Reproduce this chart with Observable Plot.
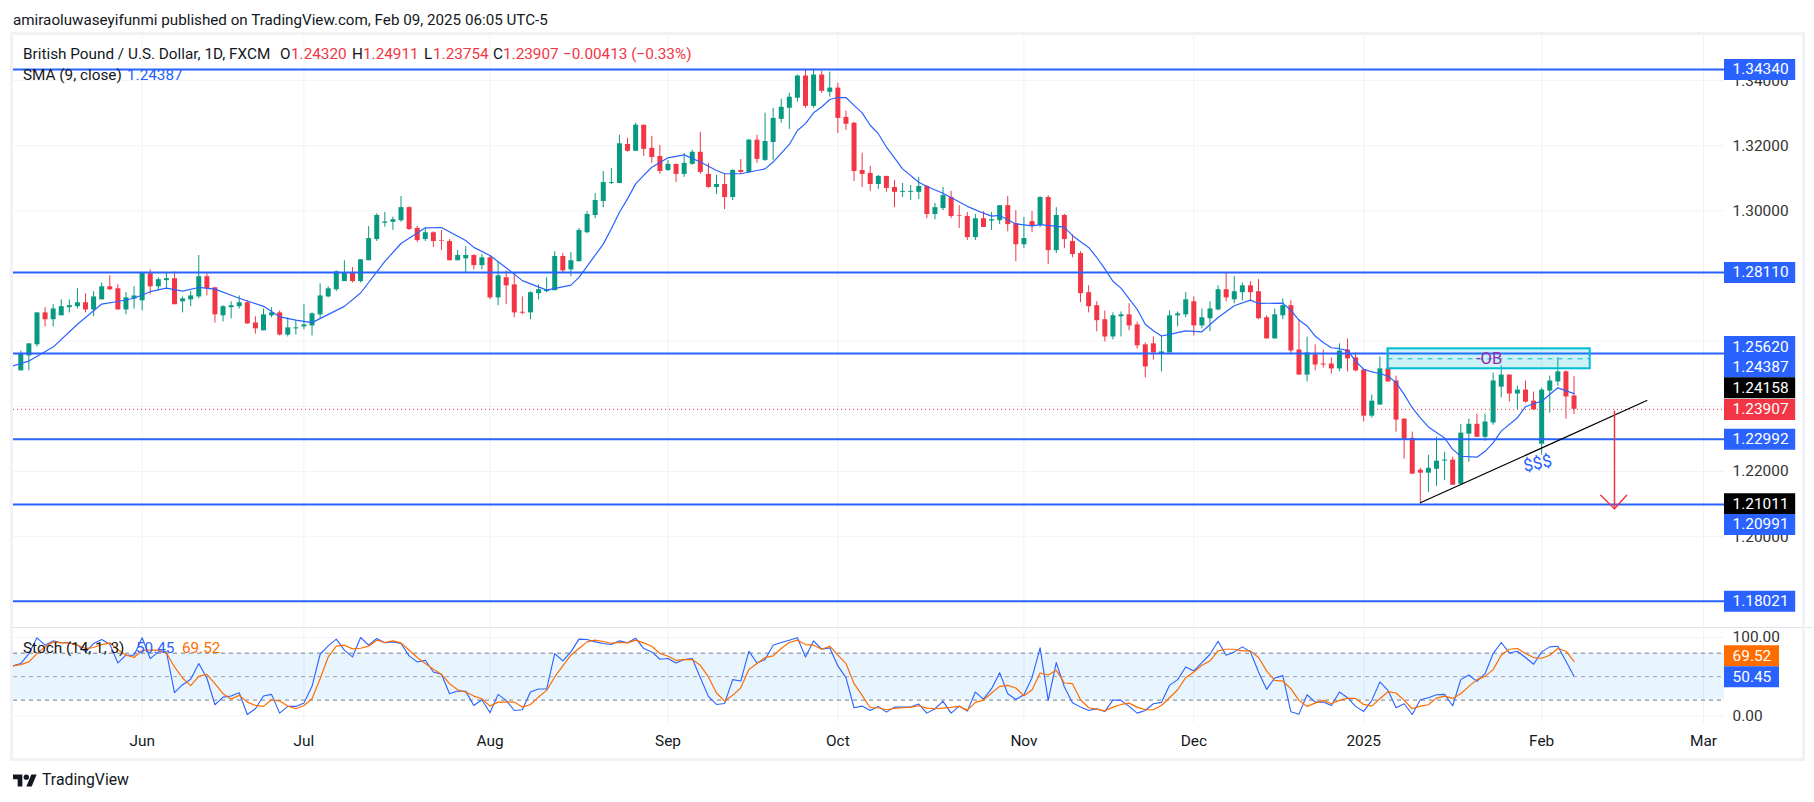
<!DOCTYPE html>
<html><head><meta charset="utf-8">
<script src="https://cdn.jsdelivr.net/npm/d3@7"></script>
<script src="https://cdn.jsdelivr.net/npm/@observablehq/plot@0.6"></script>
<style>
html,body{margin:0;padding:0;background:#fff}
#wrap{position:relative;width:1814px;height:802px;overflow:hidden;font-family:Roboto,sans-serif;color:#131722}
#frame{position:absolute;left:10px;top:32px;width:1789px;height:723px;border:3px solid #f1f2f5;box-sizing:content-box;pointer-events:none}
#price,#osc{position:absolute;left:13px}
#price{top:35px}#osc{top:627px}
.t{position:absolute;white-space:pre;font-size:15.3px;line-height:18px;z-index:5}
.up{color:#f23645}.blue{color:#2962ff}.org{color:#ff6d00}
</style></head><body>
<div id="wrap">
<div id="price"></div><div id="osc"></div><div id="frame"></div>
<div class="t" style="left:13px;top:11px;font-size:15.2px">amiraoluwaseyifunmi published on TradingView.com, Feb 09, 2025 06:05 UTC-5</div>
<div class="t" style="left:23px;top:45px">British Pound / U.S. Dollar, 1D, FXCM</div>
<div class="t" style="left:280px;top:45px">O</div><div class="t up" style="left:291px;top:45px">1.24320</div>
<div class="t" style="left:352px;top:45px">H</div><div class="t up" style="left:363px;top:45px">1.24911</div>
<div class="t" style="left:424px;top:45px">L</div><div class="t up" style="left:433px;top:45px">1.23754</div>
<div class="t" style="left:493px;top:45px">C</div><div class="t up" style="left:503px;top:45px">1.23907</div>
<div class="t up" style="left:563px;top:45px">−0.00413 (−0.33%)</div>
<div class="t" style="left:23px;top:66px">SMA (9, close)</div><div class="t blue" style="left:127px;top:66px">1.24387</div>
<div class="t" style="left:23px;top:639px">Stoch (14, 1, 3)</div><div class="t blue" style="left:136px;top:639px">50.45</div><div class="t org" style="left:182px;top:639px">69.52</div>
<svg style="position:absolute;left:13px;top:773px" width="24" height="15" viewBox="0 4 36 18"><path fill="#131722" d="M14 22H7V11H0V4h14v18zM28 22h-8l7.5-18h8L28 22z"/><circle fill="#131722" cx="20" cy="8" r="4"/></svg>
<div class="t" style="left:42px;top:771px;font-size:15.8px">TradingView</div>
</div>
<script>
// Daily candles, May 13 2024 to Feb 7 2025 (array position = bar number), in pips (price x 10000)
const openPips=[12509,12555,12589,12687,12666,12678,12703,12706,12718,12696,
12727,12767,12761,12696,12730,12724,12807,12767,12786,12792,
12721,12727,12736,12798,12764,12678,12703,12706,12718,12656,
12632,12678,12687,12619,12638,12644,12647,12681,12736,12758,
12783,12810,12783,12847,12912,12962,12965,12970,13010,12946,
12912,12933,12909,12906,12847,12853,12863,12832,12856,12733,
12795,12773,12689,12687,12746,12752,12755,12860,12819,12844,
12933,12986,13029,13084,13084,13204,13183,13263,13192,13167,
13124,13143,13112,13143,13180,13112,13072,13081,13041,13124,
13118,13217,13155,13210,13281,13315,13346,13414,13321,13417,
13364,13377,13287,13269,13124,13115,13081,13106,13072,13057,
13057,13057,13075,12989,13007,13041,12986,12983,12918,12976,
12969,12970,13016,12961,12896,12967,12955,13041,12878,12986,
12906,12869,12749,12709,12666,12613,12675,12681,12650,12589,
12592,12561,12564,12678,12681,12721,12647,12669,12696,12758,
12727,12749,12770,12752,12672,12607,12678,12709,12573,12496,
12558,12530,12530,12515,12573,12549,12512,12370,12404,12515,
12478,12361,12302,12204,12195,12207,12232,12235,12161,12315,
12345,12305,12349,12459,12496,12438,12450,12416,12284,12447,
12475,12506,12432];
const highPips=[12570,12592,12687,12703,12712,12727,12727,12761,12746,12752,
12779,12801,12773,12749,12767,12810,12819,12795,12810,12813,
12736,12752,12863,12807,12764,12709,12721,12739,12724,12675,
12699,12703,12693,12672,12662,12712,12687,12776,12767,12816,
12847,12826,12850,12952,12991,12995,12981,13044,13013,12952,
12946,12936,12940,12912,12878,12890,12866,12866,12863,12841,
12816,12810,12736,12752,12773,12795,12875,12869,12872,12946,
12998,13053,13121,13130,13232,13223,13269,13263,13229,13201,
13155,13143,13176,13186,13241,13146,13109,13115,13127,13158,
13220,13232,13300,13315,13343,13361,13417,13432,13435,13429,
13426,13392,13306,13272,13177,13137,13109,13106,13093,13084,
13078,13103,13078,13023,13072,13060,13016,12995,12989,12998,
12995,13016,13044,13001,12980,12998,13044,13047,13010,12989,
12927,12875,12770,12721,12693,12687,12690,12715,12659,12595,
12613,12616,12693,12690,12749,12736,12699,12721,12770,12810,
12798,12779,12783,12789,12678,12699,12730,12724,12666,12613,
12589,12573,12549,12592,12607,12564,12512,12435,12552,12576,
12493,12361,12321,12210,12250,12305,12259,12244,12345,12361,
12376,12376,12502,12524,12496,12462,12478,12444,12456,12493,
12549,12509,12491];
const lowPips=[12509,12509,12582,12644,12644,12678,12687,12699,12687,12675,
12727,12755,12696,12681,12699,12693,12743,12755,12761,12712,
12687,12706,12730,12739,12656,12659,12669,12699,12653,12622,
12632,12672,12616,12613,12619,12635,12616,12669,12733,12752,
12783,12779,12779,12847,12906,12950,12940,12965,12940,12903,
12906,12887,12878,12847,12847,12810,12819,12819,12727,12709,
12712,12672,12681,12666,12727,12749,12755,12810,12798,12844,
12930,12976,13010,13081,13084,13180,13183,13167,13146,13112,
13121,13087,13103,13140,13112,13069,13050,13004,13032,13112,
13115,13146,13152,13155,13269,13250,13334,13315,13315,13361,
13349,13238,13247,13090,13072,13060,13066,13057,13010,13041,
13032,13035,12976,12973,13001,12976,12946,12909,12909,12949,
12940,12958,12936,12844,12884,12933,12949,12835,12869,12884,
12856,12718,12687,12629,12598,12604,12613,12632,12576,12487,
12542,12506,12564,12644,12672,12616,12638,12629,12693,12721,
12715,12724,12721,12666,12607,12607,12666,12561,12496,12475,
12509,12518,12499,12506,12506,12506,12352,12364,12404,12475,
12321,12238,12192,12101,12136,12155,12173,12158,12161,12229,
12305,12293,12342,12426,12413,12389,12410,12389,12250,12379,
12462,12361,12375];
const closePips=[12560,12592,12687,12666,12699,12706,12709,12718,12696,12736,
12767,12758,12696,12733,12739,12810,12767,12789,12792,12712,
12730,12739,12798,12761,12681,12706,12709,12718,12653,12638,
12681,12687,12619,12641,12641,12650,12684,12739,12761,12813,
12810,12783,12850,12915,12986,12966,12973,13010,12943,12909,
12933,12906,12907,12847,12863,12863,12832,12856,12733,12801,
12770,12687,12686,12749,12758,12758,12860,12816,12847,12940,
12989,13032,13087,13087,13206,13183,13263,13189,13164,13121,
13143,13112,13146,13180,13118,13072,13081,13041,13124,13118,
13217,13158,13213,13284,13318,13349,13414,13321,13417,13367,
13377,13284,13266,13121,13112,13081,13106,13069,13057,13060,
13060,13075,12989,13010,13047,12983,12984,12918,12976,12949,
12973,13016,12958,12896,12915,12955,13041,12878,12986,12912,
12866,12746,12706,12663,12613,12678,12681,12647,12586,12521,
12564,12567,12678,12684,12727,12647,12672,12699,12758,12733,
12752,12770,12749,12669,12607,12681,12709,12570,12496,12564,
12527,12527,12515,12570,12546,12509,12370,12416,12515,12475,
12358,12299,12192,12195,12210,12232,12235,12158,12318,12345,
12305,12352,12478,12496,12438,12450,12413,12389,12450,12478,
12506,12429,12391];
// SMA(9) at its vertices
const smaBars=[-1,1,4,7,10,12,14,16,18,20,22,24,27,30,32,34,36,40,42,45,47,50,52,55,56,58,61,62,65,68,69,72,73,74,75,76,77,78,80,82,84,86,87,89,91,92,93,95,96,97,98,99,100,101,102,103,104,105,106,107,108,109,111,112,114,117,119,120,121,123,125,126,129,130,132,133,134,135,136,138,139,140,141,142,144,146,148,150,152,153,156,157,158,159,160,161,162,163,164,165,166,167,168,169,170,171,172,173,174,176,177,178,180,181,182,183,185,186,187,188,190,192];
const smaPips=[12524,12539,12582,12652,12714,12722,12732,12752,12763,12754,12765,12760,12732,12707,12675,12665,12657,12707,12748,12845,12900,12948,12949,12909,12888,12863,12806,12786,12757,12772,12796,12898,12945,12996,13037,13083,13109,13134,13163,13172,13150,13124,13114,13114,13124,13129,13150,13204,13247,13268,13301,13319,13342,13348,13348,13324,13301,13263,13237,13196,13163,13129,13088,13075,13054,13014,12993,12984,12986,12960,12954,12958,12950,12924,12888,12857,12822,12784,12763,12698,12652,12632,12616,12621,12632,12629,12673,12709,12726,12716,12717,12695,12665,12647,12616,12596,12580,12577,12572,12539,12514,12506,12501,12493,12473,12437,12396,12365,12337,12303,12268,12247,12244,12262,12288,12324,12365,12399,12408,12416,12457,12439];
// Stochastic, first entry is bar -1 (clipped at the left edge)
const stochK=[63.7,66.7,79.5,99.6,90.2,95.7,93.2,93.2,90.2,81.6,92.3,97.4,91.5,67.5,77.4,77.4,99.6,73.1,81.6,81.6,29.5,39.7,46.6,66.7,48.3,14.1,23.9,25.2,29.5,1.7,9,25.2,27.4,3.4,12,12,16.2,37.6,78.6,89.3,97.9,83.8,75.2,100,90.2,98.7,93.2,94.4,92.3,76.5,68.8,70.9,56,53,28.2,31.6,31.2,13.2,20.5,3.8,27.4,19.7,6.8,7.7,30.3,34.2,34.2,79.5,70.1,81.6,97.9,97.4,94.4,92.3,91,95.7,
93.2,99.1,85.9,81.6,72.2,73.1,67.5,71.8,73.1,48.7,24.8,14.5,15.8,46.2,44.4,82.5,67.5,71.8,90.2,93.6,96.6,99.6,75.2,95.7,85,86.8,63.7,48.7,10.3,12.4,6.8,12,4.7,11.1,11.1,11.1,15,3.4,9,18.4,3.4,12.4,6,30.3,21.4,34.6,55.1,28.2,20.9,26.9,48.7,86.8,19.7,67.9,36.8,16.7,11.1,6.8,9,5.6,20.1,19.7,12,3.4,6.8,15.4,17.1,38.9,46.2,62.4,57.3,67.9,78.6,95.3,
77.4,81.6,88,81.6,56,33.8,48.3,51.3,5.1,2.1,26.9,17.5,17.5,13.2,30.3,23.1,12,5.6,19.7,43.2,32.5,10.3,15.4,1.7,20.5,23.1,26.9,27.4,12.8,46.2,52.1,44,53.8,79.5,93.6,80.3,82.5,74.4,65.8,81.6,88,88.9,69.7,50.45];
const stochD=[63.7,65.4,68.8,79.5,88,94.4,93.2,93.2,90.2,85.9,87.2,91,93.2,84.6,77.4,74.4,83.8,83.8,83.8,80.3,62.4,48.3,38.5,50.4,53,41,28.2,21.4,26.1,17.5,13.2,12,20.5,18.8,12.4,9,13.2,21.8,47.4,75.2,88.9,90.2,85.5,86.3,88.9,96.6,93.6,95.7,93.2,83.8,74.4,66.7,59.4,53,41,33.3,30.3,25.2,21.8,12.4,17.5,17.5,17.5,11.1,14.5,23.9,32.5,49.6,63.7,77.4,85.9,94.4,96.6,94.9,92.7,93.6,
93.2,96.6,93.2,88.9,79.5,76.1,70.9,71.8,71.8,64.5,49.6,29.1,18.8,26.1,35.9,59,66.7,74.4,76.5,85.9,93.6,96.6,91,90.2,85,88.9,77.4,66.7,41,26.1,10.3,10.3,7.7,9.4,10.3,11.1,12.8,9.8,9,9.8,10.7,12,7.3,17.1,20.1,29.1,37.6,38.9,35.5,25.6,32.9,54.7,52.1,58.1,41.9,41,20.5,10.3,8.5,6.4,11.1,14.5,16.2,11.1,7.7,7.7,13.2,23.1,33.3,48.7,56,64.5,70.1,82.9,
85,85,82.9,82.9,74.4,57.3,45.3,44.4,34.6,19.7,12,16.2,19.7,15.4,19.7,22.2,22.2,14.5,12.4,21.8,30.8,29.1,19.7,9,12.4,14.1,22.6,25.2,22.2,28.2,37.6,46.2,50.4,59,77.4,85,85.9,79.5,74.4,73.5,77.4,85.9,82.5,69.52];

const monthBars=[15,35,58,80,101,124,145,166,188,208];
const monthLabels=["Jun","Jul","Aug","Sep","Oct","Nov","Dec","2025","Feb","Mar"];
const gridPrices=[1.34,1.32,1.30,1.28,1.26,1.24,1.22,1.20];
const axisLabelPrices=[1.34,1.32,1.30,1.22,1.20];
const levelPrices=[1.3434,1.2811,1.2562,1.22992,1.20991,1.18021];
const tagValues=[1.3434,1.2811,1.2562,1.24387,1.24158,1.23907,1.22992,1.21011,1.20991,1.18021];
const tagColors=["#2962ff","#2962ff","#2962ff","#2962ff","#000000","#f23645","#2962ff","#000000","#2962ff","#2962ff"];
const lastClose=1.23907;
const oscTicks=[100,0];
const oscLevels=[80,50,20];
const obZone={bar1:169,bar2:194,top:1.25767,bottom:1.25154,mid:1.2546};
const trendBars=[173,201],trendPrices=[1.2104,1.2418];
const arrowBars=[197,197],arrowPrices=[1.2385,1.2086];
const arrowHeadBars=[195.3,197,198.5],arrowHeadPrices=[1.2127,1.2086,1.2127];
const oscTags=[69.52,50.45];

// layout
const font="Roboto, sans-serif";
const labelSize=15.4;
const xDomain=[-0.902,210.6];
const tagEnd=219.4, labelStart=211.6, oscTagEnd=217.4;
const tagNudge=[0,0,-7,-27,-13.5,0,0,0,20,0];
const oscNudge=[-5.5,0.5];
const bars=d3.range(openPips.length);
const P=v=>v/1e4;
const up=i=>closePips[i]>=openPips[i];
const GREEN="#089981",RED="#f23645",BLUE="#2962ff",GRID="#f1f3f6";

const priceMarks=[
  Plot.ruleY(gridPrices,{x1:xDomain[0],x2:xDomain[1],stroke:GRID,strokeWidth:1}),
  Plot.ruleX(monthBars,{stroke:GRID,strokeWidth:1}),
  Plot.ruleX(bars,{x:i=>i,y1:i=>P(lowPips[i]),y2:i=>P(highPips[i]),stroke:i=>up(i)?GREEN:RED,strokeWidth:1,clip:true}),
  Plot.ruleX(bars,{x:i=>i,y1:i=>P(openPips[i]),y2:i=>P(closePips[i]),stroke:i=>up(i)?GREEN:RED,strokeWidth:5,clip:true}),
  Plot.line(smaBars,{x:d=>d,y:(d,j)=>P(smaPips[j]),stroke:BLUE,strokeWidth:1.2,clip:true}),
  Plot.ruleY([lastClose],{x1:xDomain[0],x2:xDomain[1],stroke:RED,strokeWidth:1,strokeDasharray:"1,3"}),
  Plot.ruleY(levelPrices,{x1:xDomain[0],x2:xDomain[1],stroke:BLUE,strokeWidth:2}),
  Plot.rect([obZone],{x1:"bar1",x2:"bar2",y1:"bottom",y2:"top",fill:"#00bcd4",fillOpacity:0.2,stroke:"#00bcd4",strokeWidth:2}),
  Plot.ruleY([obZone.mid],{x1:obZone.bar1,x2:obZone.bar2,stroke:"#00bcd4",strokeWidth:1,strokeDasharray:"5,5"}),
  Plot.text(["-OB"],{x:181.5,y:obZone.mid,text:d=>d,fill:"#9c27b0",fontSize:16.5,fontFamily:font}),
  Plot.line(trendBars,{x:d=>d,y:(d,j)=>trendPrices[j],stroke:"#000",strokeWidth:1.2}),
  Plot.line(arrowBars,{x:d=>d,y:(d,j)=>arrowPrices[j],stroke:RED,strokeWidth:1.5}),
  Plot.line(arrowHeadBars,{x:d=>d,y:(d,j)=>arrowHeadPrices[j],stroke:RED,strokeWidth:1.5}),
  Plot.text(["$$$"],{x:187.5,y:1.2225,text:d=>d,fill:BLUE,fontSize:17,rotate:-12,fontFamily:font}),
  Plot.text(axisLabelPrices,{x:labelStart,y:d=>d,text:d=>d.toFixed(5),textAnchor:"start",fill:"#333",fontSize:labelSize,fontFamily:font})
];
tagValues.forEach((v,k)=>{
  priceMarks.push(Plot.ruleY([v],{x1:xDomain[1],x2:tagEnd,stroke:tagColors[k],strokeWidth:21,dy:tagNudge[k]}));
  priceMarks.push(Plot.text([v],{x:labelStart,y:d=>d,text:d=>d.toFixed(5),textAnchor:"start",fill:"#fff",fontSize:labelSize,dy:tagNudge[k],fontFamily:font}));
});
const priceSvg=Plot.plot({width:1787,height:592,marginLeft:0,marginRight:76,marginTop:0,marginBottom:0,
  style:{background:"transparent",overflow:"visible"},
  x:{domain:xDomain,range:[0,1711],axis:null},
  y:{domain:[1.17213,1.35384],range:[592,0],axis:null},
  marks:priceMarks});
document.getElementById("price").append(priceSvg);

const kBars=stochK.map((d,j)=>j-1);
const oscMarks=[
  Plot.ruleY([100],{x1:xDomain[0],x2:xDomain[1]+10.9,stroke:"#e0e3eb",strokeWidth:1.2,dy:-10}),
  Plot.ruleY(oscTicks,{x1:xDomain[0],x2:xDomain[1],stroke:GRID,strokeWidth:1}),
  Plot.ruleX(monthBars,{stroke:GRID,strokeWidth:1}),
  Plot.rect([0],{x1:xDomain[0],x2:xDomain[1],y1:20,y2:80,fill:"#2196f3",fillOpacity:0.1}),
  Plot.ruleY(oscLevels,{x1:xDomain[0],x2:xDomain[1],stroke:d=>d===50?"#a3a6af":"#787b86",strokeWidth:1,strokeDasharray:"4,4"}),
  Plot.line(kBars,{x:d=>d,y:(d,j)=>stochK[j],stroke:BLUE,strokeWidth:1.1,clip:true}),
  Plot.line(kBars,{x:d=>d,y:(d,j)=>stochD[j],stroke:"#ff6d00",strokeWidth:1.2,clip:true}),
  Plot.text(monthBars,{x:d=>d,frameAnchor:"bottom",dy:18,lineAnchor:"middle",text:(d,j)=>monthLabels[j],fill:"#131722",fontSize:labelSize,fontFamily:font,fontWeight:(d,j)=>monthLabels[j]==="2025"?"700":"400"}),
  Plot.text(oscTicks,{x:labelStart,y:d=>d,text:d=>d.toFixed(2),textAnchor:"start",fill:"#333",fontSize:labelSize,fontFamily:font})
];
oscTags.forEach((v,k)=>{
  oscMarks.push(Plot.ruleY([v],{x1:xDomain[1],x2:oscTagEnd,stroke:k?BLUE:"#ff6d00",strokeWidth:21,dy:oscNudge[k]}));
  oscMarks.push(Plot.text([v],{x:labelStart,y:d=>d,text:d=>d.toFixed(2),textAnchor:"start",fill:"#fff",fontSize:labelSize,dy:oscNudge[k],fontFamily:font}));
});
const oscSvg=Plot.plot({width:1787,height:130,marginLeft:0,marginRight:76,marginTop:0,marginBottom:34,
  style:{background:"transparent",overflow:"visible"},
  x:{domain:xDomain,range:[0,1711],axis:null},
  y:{domain:[0,100],range:[88.3,10],axis:null},
  marks:oscMarks});
document.getElementById("osc").append(oscSvg);
</script>
</body></html>
